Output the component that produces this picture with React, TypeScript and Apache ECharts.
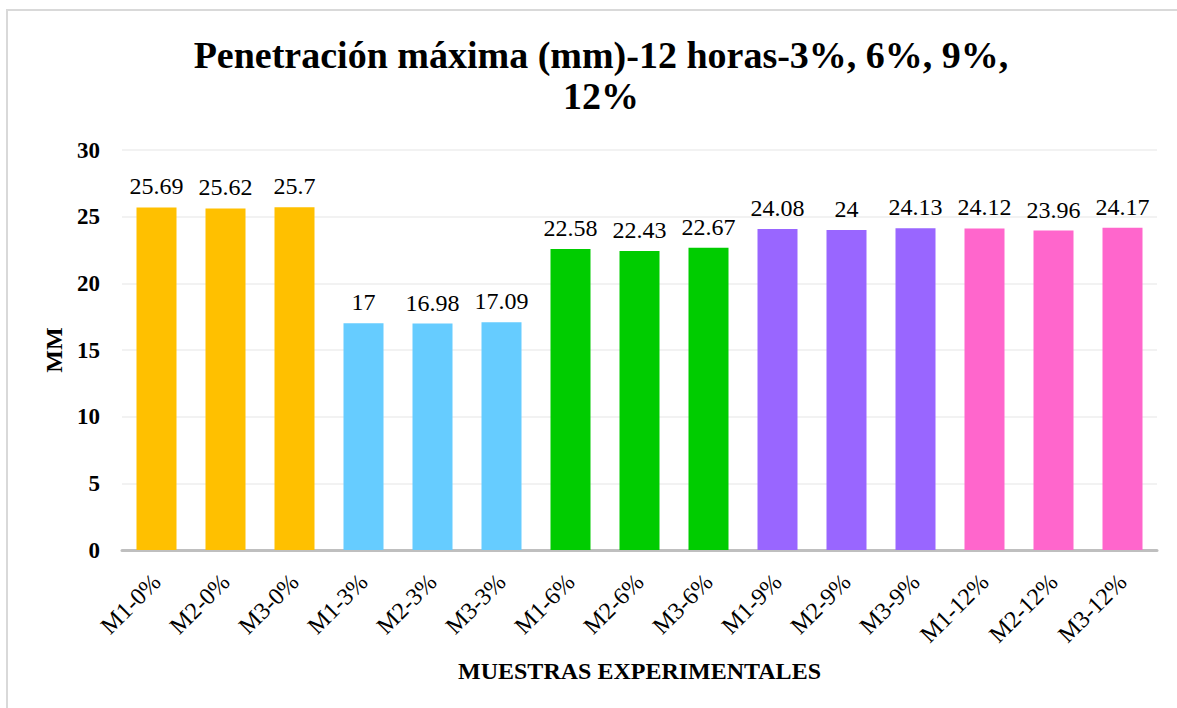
import React, { useEffect, useRef } from "react";
import * as echarts from "echarts";

const categories = [
  "M1-0%", "M2-0%", "M3-0%",
  "M1-3%", "M2-3%", "M3-3%",
  "M1-6%", "M2-6%", "M3-6%",
  "M1-9%", "M2-9%", "M3-9%",
  "M1-12%", "M2-12%", "M3-12%",
];
const values = [25.69, 25.62, 25.7, 17, 16.98, 17.09, 22.58, 22.43, 22.67, 24.08, 24, 24.13, 24.12, 23.96, 24.17];
const groupColors = ["#FFC000", "#66CCFF", "#00CC00", "#9966FF", "#FF66CC"];
const titleText = "Penetración máxima (mm)-12 horas-3%, 6%, 9%,\n12%";
const yAxisName = "MM";
const xAxisName = "MUESTRAS EXPERIMENTALES";

const FONT = "Liberation Serif";

export default function App() {
  const ref = useRef<HTMLDivElement>(null);
  useEffect(() => {
    document.body.style.margin = "0";
    const chart = echarts.init(ref.current!, undefined, { renderer: "svg" });
    chart.setOption({
      animation: false,
      backgroundColor: "#ffffff",
      textStyle: { fontFamily: FONT },
      title: {
        text: titleText,
        left: 596,
        textAlign: "center",
        top: 29,
        textStyle: {
          fontFamily: FONT,
          fontWeight: "bold",
          fontSize: 38,
          lineHeight: 41,
          color: "#000",
        },
      },
      graphic: [
        {
          type: "rect",
          shape: { x: 7, y: 10, width: 1400, height: 900 },
          style: { fill: "none", stroke: "#d9d9d9", lineWidth: 2 },
          silent: true,
          z: -10,
        },
      ],
      grid: { left: 122, right: 20, top: 150, bottom: 158, containLabel: false },
      xAxis: {
        type: "category",
        data: categories,
        name: xAxisName,
        nameLocation: "middle",
        nameGap: 109,
        nameTextStyle: { fontFamily: FONT, fontWeight: "bold", fontSize: 24, color: "#000" },
        axisLine: { lineStyle: { color: "#bfbfbf", width: 3 } },
        axisTick: { show: false },
        axisLabel: {
          rotate: 45,
          interval: 0,
          margin: 28,
          fontFamily: FONT,
          fontSize: 24,
          color: "#000",
        },
      },
      yAxis: {
        type: "value",
        min: 0,
        max: 30,
        interval: 5,
        name: yAxisName,
        nameLocation: "middle",
        nameGap: 54,
        nameRotate: 90,
        nameTextStyle: { fontFamily: FONT, fontWeight: "bold", fontSize: 24, color: "#000" },
        axisLine: { show: false },
        axisTick: { show: false },
        splitLine: { lineStyle: { color: "#eeeeee", width: 1.5 } },
        axisLabel: {
          margin: 22,
          fontFamily: FONT,
          fontWeight: "bold",
          fontSize: 23,
          color: "#000",
        },
      },
      series: [
        {
          type: "bar",
          data: values.map((v, i) => ({
            value: v,
            itemStyle: { color: groupColors[Math.floor(i / 3)] },
          })),
          barWidth: 40,
          label: {
            show: true,
            position: "top",
            distance: 9,
            fontFamily: FONT,
            fontSize: 24,
            color: "#000",
          },
        },
      ],
    });
    return () => chart.dispose();
  }, []);
  return <div ref={ref} style={{ width: 1177, height: 708 }} />;
}
